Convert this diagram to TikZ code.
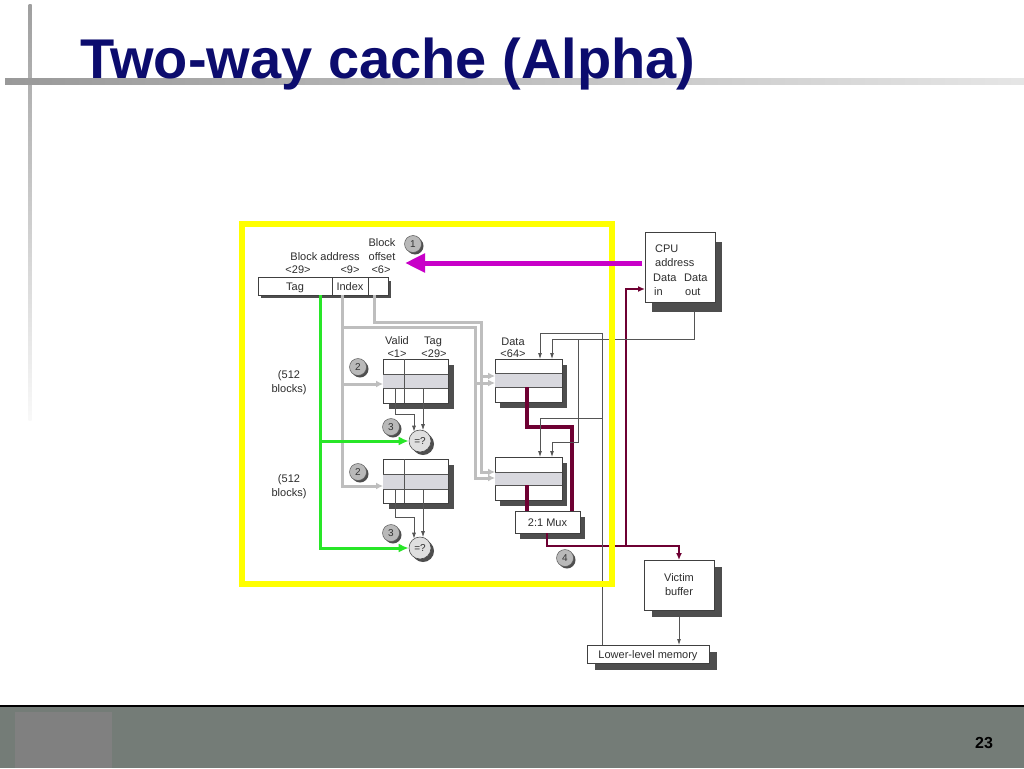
\documentclass[tikz,border=0pt]{standalone}
\usepackage{fontspec}
\setmainfont{Liberation Sans}
\usetikzlibrary{arrows.meta,calc}
\definecolor{navy}{RGB}{12,12,110}
\definecolor{mag}{RGB}{200,0,200}
\definecolor{grn}{RGB}{40,230,40}
\definecolor{maroon}{RGB}{110,0,50}
\definecolor{lgray}{RGB}{190,190,190}
\definecolor{shd}{RGB}{78,78,78}
\definecolor{rowc}{RGB}{216,216,222}
\definecolor{txt}{RGB}{45,45,45}
\definecolor{yel}{RGB}{255,255,0}
\definecolor{band}{RGB}{116,124,119}
\definecolor{sq}{RGB}{128,128,128}
\definecolor{thinc}{RGB}{85,85,85}
\tikzset{
  lbl/.style={font=\fontsize{11}{12}\selectfont, text=txt, inner sep=0pt, text height=8pt, text depth=0pt},
  boxs/.style={draw=black!75, fill=white, line width=0.7pt, inner sep=0pt, outer sep=0pt,
    align=center, font=\fontsize{11}{14}\selectfont, text=txt},
  oneline/.style={text height=8pt, text depth=0pt},
  field/.style={boxs, oneline, minimum height=18pt},
  num/.style={circle, fill=gray!55, draw=black!65, line width=0.5pt, minimum size=17pt,
    inner sep=0pt, font=\fontsize{10}{10}\selectfont, text=black!80},
  cmp/.style={circle, fill=gray!25, draw=black!70, line width=0.6pt, minimum size=22pt,
    inner sep=0pt, font=\fontsize{10}{10}\selectfont, text=txt},
  thinl/.style={draw=thinc, line width=0.8pt},
  thinarr/.style={thinl, -{Latex[length=6pt,width=4pt]}},
  grayl/.style={draw=lgray, line width=3pt},
  grayarr/.style={grayl, -{Latex[length=7pt,width=7pt]}},
  grnarr/.style={draw=grn, line width=3pt, -{Latex[length=10pt,width=9pt]}},
  marthick/.style={draw=maroon, line width=3.5pt},
  marthin/.style={draw=maroon, line width=1.6pt, -{Latex[length=7pt,width=6pt]}},
}
\newcommand\shadowedbox[9][]{%
  \fill[shd] ({#3+#7},{#4+#8}) rectangle ({#5+#7},{#6+#8});
  \node[boxs, #1, anchor=north west, minimum width={#5-#3}, minimum height={#6-#4}] (#2) at (#3,#4) {#9};
}
\newcommand\numcircle[4]{%
  \fill[shd] ({#2+2},{#3+2}) circle (8.5);
  \node[num] (#1) at (#2,#3) {#4};
}
\newcommand\cmpcircle[3]{%
  \fill[shd] ({#2+3},{#3+3}) circle (11);
  \node[cmp] (#1) at (#2,#3) {=?};
}
\begin{document}
\begin{tikzpicture}[x=1pt,y=-1pt]
\useasboundingbox (0,0) rectangle (1024,768);
\fill[white] (0,0) rectangle (1024,768);
% slide decorations
\fill[top color=gray!75, bottom color=gray!5] (28.5,5) rectangle (31.5,420);
\fill[left color=gray!80, right color=gray!20] (5,78) rectangle (1024,84);
\fill[band] (0,707) rectangle (1024,768);
\draw[black, line width=1.5pt] (0,706) -- (1024,706);
\fill[sq] (15,712) rectangle (112,768);
\node[anchor=base west, font=\fontsize{56}{60}\selectfont\bfseries, text=navy, inner sep=0pt] (title) at (80,78) {Two-way cache (Alpha)};
\node[font=\fontsize{16}{18}\selectfont\bfseries, inner sep=0pt] (pg) at (984,743) {23};

% address register
\fill[shd] (261,281) rectangle (391,298);
\node[field, minimum width=74pt] (tagf) at (295,286) {Tag};
\node[field, minimum width=36pt] (idxf) at (350,286) {Index};
\node[field, minimum width=20pt] (offf) at (378,286) {};
\node[lbl] (lba) at (325,256) {Block address};
\node[lbl] (lbb) at (382,242) {Block};
\node[lbl] (lbo) at (382,256) {offset};
\node[lbl] (l29) at (298,269) {<29>};
\node[lbl] (l9) at (350,269) {<9>};
\node[lbl] (l6) at (381,269) {<6>};

% tag arrays
\shadowedbox{ta1}{383}{359}{448}{403}{6}{6}{}
\fill[rowc] (383.4,374) rectangle (447.6,388);
\draw[thinl] (383,374) -- (448,374) (383,388) -- (448,388) (404,359) -- (404,403);
\shadowedbox{ta2}{383}{459}{448}{503}{6}{6}{}
\fill[rowc] (383.4,474) rectangle (447.6,489);
\draw[thinl] (383,474) -- (448,474) (383,489) -- (448,489) (404,459) -- (404,503);
\node[lbl] (lv) at (397,340) {Valid};
\node[lbl] (lv1) at (397,353) {<1>};
\node[lbl] (lt) at (433,340) {Tag};
\node[lbl] (lt29) at (434,353) {<29>};
\node[lbl] (b1a) at (289,374) {(512};
\node[lbl] (b1b) at (289,388) {blocks)};
\node[lbl] (b2a) at (289,478) {(512};
\node[lbl] (b2b) at (289,492) {blocks)};

% data arrays
\shadowedbox{da1}{495}{359}{562}{402}{5}{6}{}
\fill[rowc] (495.4,373) rectangle (561.6,387);
\draw[thinl] (495,373) -- (562,373) (495,387) -- (562,387);
\shadowedbox{da2}{495}{457}{562}{500}{5}{6}{}
\fill[rowc] (495.4,472) rectangle (561.6,485);
\draw[thinl] (495,472) -- (562,472) (495,485) -- (562,485);
\node[lbl] (ld) at (513,341) {Data};
\node[lbl] (ld64) at (513,353) {<64>};

% mux, CPU, victim buffer, memory
\shadowedbox[oneline]{mux}{515}{511}{580}{533}{5}{6}{2:1 Mux}
\shadowedbox{cpu}{645}{232}{715}{302}{7}{10}{}
\node[lbl, anchor=west] (c1t) at (655,248) {CPU};
\node[lbl, anchor=west] (c2t) at (655,262) {address};
\node[lbl, anchor=west] (c3t) at (653,277) {Data};
\node[lbl, anchor=west] (c4t) at (684,277) {Data};
\node[lbl, anchor=west] (c5t) at (654,291) {in};
\node[lbl, anchor=west] (c6t) at (685,291) {out};
\shadowedbox{victim}{644}{560}{714}{610}{8}{7}{Victim\\buffer}
\shadowedbox[oneline]{llm}{587}{645}{709}{663}{8}{7}{Lower-level memory}

% comparators and step numbers
\cmpcircle{c1}{420}{441}
\cmpcircle{c2}{420}{548}
\numcircle{n1}{413}{244}{1}
\numcircle{n2a}{358}{367}{2}
\numcircle{n2b}{358}{472}{2}
\numcircle{n3a}{391}{427}{3}
\numcircle{n3b}{391}{533}{3}
\numcircle{n4}{565}{558}{4}

% gray index / offset lines
\coordinate (ix) at ($(idxf.south west)+(10,0)$);
\coordinate (ox) at ($(offf.south west)+(6,0)$);
\coordinate (ta1in) at ($(ta1.west)+(0,3)$);
\coordinate (ta2in) at ($(ta2.west)+(0,5)$);
\coordinate (ixj) at (ix |- 0,327);
\coordinate (ixd) at (475,327);
\coordinate (oxj) at (ox |- 0,322);
\coordinate (oxd) at (481,322);
\coordinate (da1o) at ($(da1.west)+(0,-4.5)$);
\coordinate (da1i) at ($(da1.west)+(0,2.5)$);
\coordinate (da2o) at ($(da2.west)+(0,-6.5)$);
\coordinate (da2i) at ($(da2.west)+(0,-0.5)$);
\draw[grayarr] (ix) |- (ta2in);
\draw[grayarr] (ix |- ta1in) -- (ta1in);
\draw[grayarr] (ixj) -- (ixd) |- (da2i);
\draw[grayarr] (ixd |- da1i) -- (da1i);
\draw[grayarr] (ox) -- (oxj) -- (oxd) |- (da2o);
\draw[grayarr] (oxd |- da1o) -- (da1o);

% green tag lines
\coordinate (gtop) at ($(tagf.south east)+(-12,0)$);
\draw[grnarr] (gtop) |- (c2.west);
\draw[grnarr] (gtop |- c1.west) -- (c1.west);

% tag array to comparator
\draw[thinarr] ($(ta1.south west)+(12,-15)$) -- ++(0,26) -| ($(c1.north)+(-6,2)$);
\draw[thinarr] ($(ta1.south west)+(40,-15)$) -- ($(c1.north)+(3,0.5)$);
\draw[thinarr] ($(ta2.south west)+(12,-14)$) -- ++(0,28) -| ($(c2.north)+(-6,2)$);
\draw[thinarr] ($(ta2.south west)+(40,-14)$) -- ($(c2.north)+(3,0.5)$);

% data to mux
\draw[marthick] ($(da1.south west)+(32,-15)$) -- ++(0,40) -| ($(mux.north east)+(-8,0)$);
\draw[marthick] ($(da2.south west)+(32,-15)$) -- ($(mux.north west)+(12,0)$);

% mux output
\coordinate (mo) at ($(mux.south west)+(32,0)$);
\coordinate (mj) at (626,546);
\draw[marthin] (mo) -- ++(0,13) -| (victim.north);
\draw[marthin] (mj) |- ($(cpu.south west)+(0,-13)$);

% write lines from memory side and CPU data out
\coordinate (lm) at ($(llm.north west)+(15,0)$);
\draw[thinarr] (lm) -- (lm |- 0,333) -| ($(da1.north west)+(45,0)$);
\draw[thinarr] (lm |- 0,418) -| ($(da2.north west)+(45,0)$);
\coordinate (co) at ($(cpu.south east)+(-21,10)$);
\draw[thinarr] (co) -- (co |- 0,339) -| ($(da1.north west)+(57,0)$);
\draw[thinarr] (578,339) -- (578,442) -| ($(da2.north west)+(57,0)$);
\draw[thinarr] ($(victim.south)+(0,7)$) -- (victim.south |- llm.north);

% yellow highlight and CPU address arrow
\draw[yel, line width=6pt] (242,224) rectangle (612,584);
\coordinate (magstart) at ($(cpu.west)+(-3,-4)$);
\coordinate (magend) at (405,263);
\draw[mag, line width=5pt, -{Triangle[length=20pt,width=18pt]}] (magstart) -- (magend);
\end{tikzpicture}
\end{document}
